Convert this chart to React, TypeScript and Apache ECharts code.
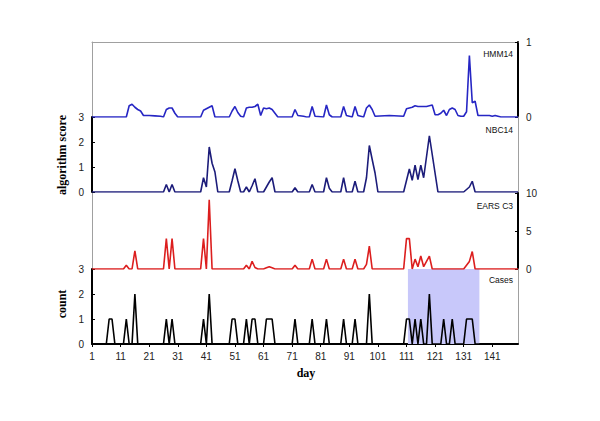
import React, { useEffect, useRef } from "react";
import * as echarts from "echarts";

// [day, value] vertices
const hmm14: [number, number][] = [
  [1, 0], [13, 0], [14, 0.15], [15, 0.17], [16, 0.13], [17, 0.1], [18, 0.08], [19, 0.02], [21, 0.02], [23, 0.015], [25, 0.01], [26, 0],
  [27, 0.1], [28, 0.12], [29, 0.12], [30, 0.05], [31, 0], [39, 0], [40, 0.09], [41, 0.11], [42, 0.13], [43, 0.15], [44, 0],
  [49, 0], [50, 0.08], [51, 0.14], [52, 0.06], [53, 0.01], [54, 0], [55, 0.12], [56, 0.13], [57, 0.13], [58, 0.14], [59, 0.17], [60, 0.02],
  [61, 0.12], [62, 0.11], [63, 0.12], [64, 0.1], [65, 0.05], [66, 0], [71, 0], [72, 0.1], [73, 0.02], [75, 0.01], [76, 0],
  [77, 0], [78, 0.14], [79, 0.01], [82, 0], [83, 0.16], [84, 0.03], [85, 0], [88, 0], [89, 0.14], [90, 0.02], [92, 0], [93, 0.14], [94, 0.02],
  [96, 0], [97, 0.12], [98, 0.16], [99, 0.1], [100, 0.01], [105, 0.02], [110, 0.01], [111, 0.11], [112, 0.12], [113, 0.13], [114, 0.15],
  [115, 0.14], [116, 0.14], [117, 0.14], [118, 0.14], [119, 0.15], [120, 0.16], [121, 0.03], [122, 0.03], [123, 0.05], [124, 0.09],
  [125, 0.02], [126, 0.1], [127, 0.12], [128, 0.1], [129, 0.02], [130, 0.01], [131, 0.01], [132, 0.07], [133, 0.82], [134, 0.19],
  [135, 0.21], [136, 0.02], [137, 0.02], [140, 0.02], [141, 0.01], [142, 0.02], [144, 0], [150, 0],
];

const nbc14: [number, number][] = [
  [1, 0], [26, 0], [27, 0.3], [28, 0], [29, 0.3], [30, 0], [39, 0], [40, 0.57], [41, 0.2], [42, 1.8], [43, 1.15], [44, 0.8], [45, 0],
  [49, 0], [50, 0.45], [51, 0.93], [52, 0.45], [53, 0], [54, 0], [55, 0.2], [56, 0], [57, 0.25], [58, 0.53], [59, 0],
  [61, 0], [62, 0.2], [63, 0.4], [64, 0.57], [65, 0], [71, 0], [72, 0.17], [73, 0], [77, 0], [78, 0.3], [79, 0],
  [82, 0], [83, 0.57], [84, 0.15], [85, 0], [88, 0], [89, 0.57], [90, 0], [92, 0], [93, 0.43], [94, 0],
  [96, 0], [97, 0.57], [98, 1.86], [99, 1.3], [100, 0.76], [101, 0], [110, 0], [112, 0.92], [113, 0.47], [114, 1.07],
  [115, 0.5], [116, 1.07], [117, 0.57], [119, 2.25], [122, 0], [131, 0], [133, 0.2], [134, 0.43], [135, 0], [150, 0],
];

const earsC3: [number, number][] = [
  [1, 0], [12, 0], [13, 0.5], [14, 0], [15, 0], [16, 2.4], [17, 0], [26, 0], [27, 4], [28, 0], [29, 4], [30, 0],
  [39, 0], [40, 4], [41, 0], [42, 9.1], [43, 0], [54, 0], [55, 0.5], [56, 0], [57, 1.0], [58, 0.2], [59, 0],
  [61, 0], [62, 0.15], [63, 0.3], [64, 0.15], [65, 0], [71, 0], [72, 0.5], [73, 0], [77, 0], [78, 1.3], [79, 0],
  [82, 0], [83, 1.3], [84, 0], [88, 0], [89, 1.3], [90, 0], [92, 0], [93, 1.3], [94, 0], [96, 0], [97, 0.6], [98, 3.0], [99, 0],
  [110, 0], [111, 4], [112, 4], [113, 0], [114, 1.3], [115, 0.3], [116, 1.7], [117, 0.3], [119, 1.7], [120, 0],
  [131, 0], [132, 0.5], [133, 1.0], [134, 2.3], [135, 0], [150, 0],
];

const cases: [number, number][] = [
  [1, 0], [6, 0], [7, 1], [8, 1], [9, 0], [12, 0], [13, 1], [14, 0], [15, 0], [16, 2], [17, 0],
  [26, 0], [27, 1], [28, 0], [29, 1], [30, 0], [39, 0], [40, 1], [41, 0], [42, 2], [43, 0],
  [49, 0], [50, 1], [51, 1], [52, 0], [54, 0], [55, 1], [56, 0], [57, 1], [58, 1], [59, 0],
  [61, 0], [62, 1], [63, 1], [64, 1], [65, 0], [71, 0], [72, 1], [73, 0], [77, 0], [78, 1], [79, 0],
  [82, 0], [83, 1], [84, 0], [88, 0], [89, 1], [90, 0], [92, 0], [93, 1], [94, 0], [97, 0], [98, 2], [99, 0],
  [110, 0], [111, 1], [112, 1], [113, 0], [114, 1], [115, 0], [116, 1], [117, 0], [118, 0], [119, 2], [120, 0],
  [123, 0], [124, 1], [125, 0], [126, 0], [127, 1], [128, 0], [131, 0], [132, 1], [133, 1], [134, 1], [135, 0], [150, 0],
];

const dayTicks = [1, 11, 21, 31, 41, 51, 61, 71, 81, 91, 101, 111, 121, 131, 141];
const outbreakWindow = [111.5, 136.5];
const dayRange = [1, 150];

const panelNames = ["HMM14", "NBC14", "EARS C3", "Cases"];

const App: React.FC = () => {
  const ref = useRef<HTMLDivElement>(null);

  useEffect(() => {
    if (!ref.current) return;
    const chart = echarts.init(ref.current, undefined, { renderer: "svg" });

    const grids = [
      { left: 92, width: 426, top: 42, height: 75 },
      { left: 92, width: 426, top: 117, height: 75 },
      { left: 92, width: 426, top: 193, height: 76 },
      { left: 92, width: 426, top: 269, height: 75 },
    ];

    const labelFont = { fontFamily: "Liberation Sans", fontSize: 10, color: "#222" };
    const gray = "#a0a0a0";

    const xBase = (i: number) => ({
      type: "value",
      gridIndex: i,
      min: dayRange[0],
      max: dayRange[1],
      splitLine: { show: false },
      axisLine: { show: false, onZero: false },
      axisTick: { show: false },
      axisLabel: { show: false },
    });

    const xAxes: any[] = [
      { ...xBase(0), position: "top", axisLine: { show: true, onZero: false, lineStyle: { color: gray, width: 1 } } },
      xBase(1),
      xBase(2),
      {
        ...xBase(3),
        position: "bottom",
        axisLine: { show: true, onZero: false, lineStyle: { color: "#000", width: 2 } },
        axisTick: { show: true, length: 3, customValues: dayTicks, lineStyle: { color: "#000" } },
        axisLabel: { show: true, margin: 7, customValues: dayTicks, ...labelFont },
      },
    ];

    const mainY = (i: number, pos: string, max: number, interval: number) => ({
      type: "value",
      gridIndex: i,
      position: pos,
      min: 0,
      max,
      interval,
      splitLine: { show: false },
      axisLine: { show: true, onZero: false, lineStyle: { color: "#000", width: 2 } },
      axisTick: { show: true, inside: true, length: 3, lineStyle: { color: "#000", width: 1 } },
      axisLabel: { show: true, margin: 8, ...labelFont },
    });
    const borderY = (i: number, pos: string, max: number) => ({
      type: "value",
      gridIndex: i,
      position: pos,
      min: 0,
      max,
      splitLine: { show: false },
      axisLine: { show: true, onZero: false, lineStyle: { color: gray, width: 1 } },
      axisTick: { show: false },
      axisLabel: { show: false },
    });

    const yAxes: any[] = [
      mainY(0, "right", 1, 1),
      borderY(0, "left", 1),
      mainY(1, "left", 3, 1),
      borderY(1, "right", 3),
      mainY(2, "right", 10, 5),
      borderY(2, "left", 10),
      mainY(3, "left", 3, 1),
      borderY(3, "right", 3),
    ];

    const lineSeries = (name: string, data: [number, number][], i: number, color: string, extra: any = {}) => ({
      type: "line",
      name,
      data,
      xAxisIndex: i,
      yAxisIndex: i * 2,
      showSymbol: false,
      symbol: "none",
      lineStyle: { color, width: 1.6 },
      itemStyle: { color },
      z: 3,
      ...extra,
    });

    const nameText = (text: string, y: number) => ({
      type: "text",
      x: 513,
      y,
      style: {
        text,
        align: "right",
        verticalAlign: "middle",
        fontFamily: "Liberation Sans",
        fontSize: 8.5,
        fill: "#111",
      },
      z: 10,
    });
    const titleStyle = {
      align: "center",
      verticalAlign: "middle",
      fontFamily: "Liberation Serif",
      fontWeight: "bold",
      fontSize: 12,
      fill: "#000",
    };

    chart.setOption({
      animation: false,
      backgroundColor: "#fff",
      grid: grids,
      xAxis: xAxes,
      yAxis: yAxes,
      series: [
        lineSeries(panelNames[0], hmm14, 0, "#2626c4"),
        lineSeries(panelNames[1], nbc14, 1, "#1c1c7a"),
        lineSeries(panelNames[2], earsC3, 2, "#dc1e1e"),
        lineSeries(panelNames[3], cases, 3, "#000", {
          markArea: {
            silent: true,
            itemStyle: { color: "rgb(200,200,250)" },
            data: [[{ xAxis: outbreakWindow[0] }, { xAxis: outbreakWindow[1] }]],
          },
        }),
      ],
      graphic: [
        nameText(panelNames[0], 54),
        nameText(panelNames[1], 130),
        nameText(panelNames[2], 206),
        nameText(panelNames[3], 280),
        { type: "text", x: 62, y: 155, rotation: Math.PI / 2, style: { text: "algorithm score", ...titleStyle } },
        { type: "text", x: 62, y: 304, rotation: Math.PI / 2, style: { text: "count", ...titleStyle } },
        { type: "text", x: 306, y: 373, style: { text: "day", ...titleStyle } },
      ],
    });

    return () => chart.dispose();
  }, []);

  return (
    <div
      ref={ref}
      style={{ position: "absolute", left: 0, top: 0, width: 600, height: 421, background: "#fff" }}
    />
  );
};

export default App;
